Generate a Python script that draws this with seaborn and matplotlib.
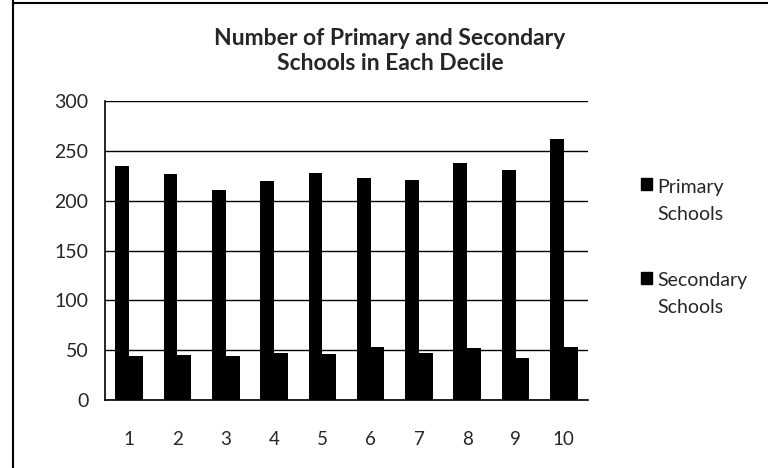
import matplotlib
matplotlib.use("Agg")
import matplotlib.pyplot as plt
from matplotlib.lines import Line2D
from matplotlib.patches import Patch
import numpy as np
import pandas as pd
import seaborn as sns

deciles = ["1", "2", "3", "4", "5", "6", "7", "8", "9", "10"]
primary = [235, 227, 211, 220, 228, 223, 221, 238, 231, 262]
secondary = [44, 45, 44, 47, 46, 53, 47, 52, 42, 53]
series_names = ["Primary Schools", "Secondary Schools"]
legend_labels = ["Primary\nSchools", "Secondary\nSchools"]
title = "Number of Primary and Secondary\nSchools in Each Decile"
yticks = [0, 50, 100, 150, 200, 250, 300]

df = pd.DataFrame({
    "Decile": deciles * 2,
    "Count": primary + secondary,
    "Series": [series_names[0]] * len(deciles) + [series_names[1]] * len(deciles),
})

sns.set_theme(style="white")
plt.rcParams["font.family"] = ["Lato", "DejaVu Sans"]

fig = plt.figure(figsize=(7.68, 4.68), dpi=100)
ax = fig.add_axes([105 / 768, 1 - 400 / 468, 483 / 768, 299 / 468])

sns.barplot(data=df, x="Decile", y="Count", hue="Series", order=deciles,
            hue_order=series_names, palette=["black", "black"],
            width=0.57, gap=0, saturation=1, ax=ax, legend=False,
            edgecolor="black", linewidth=0)

ax.set_ylim(0, 300)
ax.set_xlim(-0.5, len(deciles) - 0.5)
ax.set_yticks(yticks)
ax.set_yticklabels([str(v) for v in yticks], fontsize=14)
ax.tick_params(axis="y", direction="out", length=5, width=1, color="black", pad=7)
ax.set_xticks(np.arange(len(deciles)))
ax.set_xticklabels(deciles, fontsize=13.5)
ax.tick_params(axis="x", which="major", length=0, pad=22)
ax.set_xticks(np.arange(-0.5, len(deciles)), minor=True)
ax.tick_params(axis="x", which="minor", direction="out", length=6, width=1, color="black")
ax.set_xlabel("")
ax.set_ylabel("")
ax.yaxis.grid(True, color="black", linewidth=1)
ax.set_axisbelow(True)
for s in ["top", "right"]:
    ax.spines[s].set_visible(False)
for s in ["left", "bottom"]:
    ax.spines[s].set_color("black")
    ax.spines[s].set_linewidth(1.2)

fig.text(390 / 768, 1 - 51 / 468, title, ha="center", va="center",
         fontsize=16.5, fontweight="bold", linespacing=1.2)

handles = [Patch(facecolor="black", edgecolor="black") for _ in legend_labels]
leg = ax.legend(handles, legend_labels, loc="upper left",
                bbox_to_anchor=(641 / 768, 1 - 179 / 468),
                bbox_transform=fig.transFigure, frameon=False,
                fontsize=14, handlelength=0.55, handleheight=0.55,
                handletextpad=0.3, labelspacing=2.55, borderaxespad=0,
                borderpad=0)
for t in leg.get_texts():
    t.set_linespacing(1.7)
# align each legend square with the first line of its label
for h in leg.legend_handles:
    h.set_y(h.get_y() + 12)

# page frame lines
fig.add_artist(Line2D([13 / 768, 13 / 768], [0, 1], color="black", lw=1.5,
                      transform=fig.transFigure))
fig.add_artist(Line2D([13 / 768, 1], [1 - 3 / 468, 1 - 3 / 468], color="black",
                      lw=1.5, transform=fig.transFigure))

fig.savefig("out.png", dpi=100, facecolor="white")
